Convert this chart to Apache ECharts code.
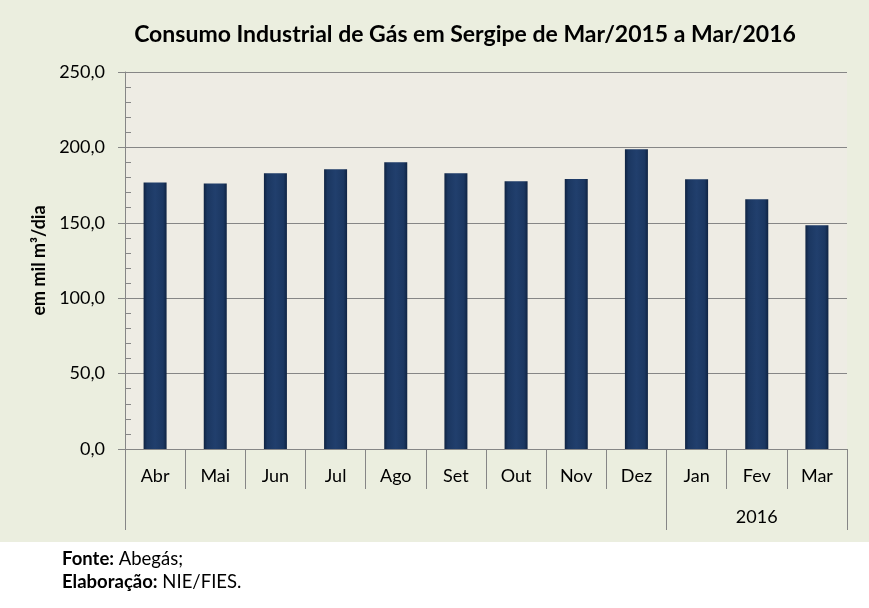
<!DOCTYPE html>
<html>
<head>
<meta charset="utf-8">
<script src="https://cdn.jsdelivr.net/npm/echarts@6/dist/echarts.min.js"></script>
<style>
  html, body { margin: 0; padding: 0; background: #ffffff; }
  #main { width: 869px; height: 608px; }
</style>
</head>
<body>
<div id="main"></div>
<script>
  // dados --------------------
  var meses = ['Abr', 'Mai', 'Jun', 'Jul', 'Ago', 'Set', 'Out', 'Nov', 'Dez', 'Jan', 'Fev', 'Mar'];
  var anos = ['', '', '', '', '', '', '', '', '', '', '2016', ''];
  var consumo = [176.7, 176.0, 182.8, 185.5, 190.2, 182.9, 177.6, 179.0, 198.7, 178.8, 165.6, 148.3];
  var inicioAno = [0, 9]; // separadores de grupo no eixo

  var fonte = 'Lato';
  var cinza = '#868686';

  var myChart = echarts.init(document.getElementById('main'));

  var option = {
    backgroundColor: '#ffffff',
    textStyle: { fontFamily: fonte },
    graphic: [
      { type: 'rect', z: -10, shape: { x: 0, y: 0, width: 869, height: 542 }, style: { fill: '#ebeedf' } },
      {
        type: 'text', left: 62, top: 548,
        style: {
          text: '{b|Fonte:} Abegás;\n{b|Elaboração:} NIE/FIES.',
          font: '18.5px Lato', fill: '#000', lineHeight: 23,
          rich: { b: { fontWeight: 'bold', fontSize: 18.5, fontFamily: fonte, lineHeight: 23 } }
        }
      }
    ],
    title: {
      text: 'Consumo Industrial de Gás em Sergipe de Mar/2015 a Mar/2016',
      left: 460, textAlign: 'center', top: 18,
      textStyle: { fontSize: 23, fontWeight: 'bold', color: '#000', fontFamily: fonte }
    },
    grid: {
      left: 125, right: 22, top: 72, bottom: 159,
      show: true, backgroundColor: '#eeece4', borderWidth: 0
    },
    xAxis: [{
      type: 'category',
      data: meses,
      axisLine: { show: true, lineStyle: { color: cinza } },
      axisTick: { show: true, length: 40, lineStyle: { color: cinza } },
      axisLabel: { fontSize: 18, color: '#000', margin: 18, interval: 0 }
    }, {
      type: 'category',
      data: anos,
      position: 'bottom',
      axisLine: { show: false },
      axisTick: {
        show: true, length: 81, lineStyle: { color: cinza },
        interval: function (i) { return inicioAno.indexOf(i) >= 0; }
      },
      axisLabel: { fontSize: 18, color: '#000', margin: 59, interval: 0 }
    }],
    yAxis: [{
      type: 'value',
      min: 0, max: 250, interval: 50,
      name: 'em mil m³/dia',
      nameLocation: 'middle', nameRotate: 90, nameGap: 76,
      nameTextStyle: { fontSize: 18, fontWeight: 'bold', color: '#000', fontFamily: fonte },
      axisLine: { show: true, lineStyle: { color: cinza } },
      axisTick: { show: true, length: 7, lineStyle: { color: cinza } },
      splitLine: { lineStyle: { color: cinza } },
      axisLabel: {
        fontSize: 18, color: '#000', margin: 20,
        formatter: function (v) { return v.toFixed(1).replace('.', ','); }
      }
    }, {
      // marcas menores, para dentro
      type: 'value',
      min: 0, max: 250, interval: 10,
      position: 'left',
      axisLine: { show: false },
      axisTick: { show: true, inside: true, length: 6, lineStyle: { color: cinza } },
      splitLine: { show: false },
      axisLabel: { show: false }
    }],
    series: [{
      name: 'Consumo',
      type: 'bar',
      barWidth: 23,
      data: consumo,
      itemStyle: {
        color: new echarts.graphic.LinearGradient(0, 0, 1, 0, [
          { offset: 0, color: '#0f2342' },
          { offset: 0.15, color: '#1b3761' },
          { offset: 0.5, color: '#213f6d' },
          { offset: 0.85, color: '#1b3761' },
          { offset: 1, color: '#0f2342' }
        ]),
        shadowColor: 'rgba(0,0,0,0.35)',
        shadowBlur: 3,
        shadowOffsetX: 2,
        shadowOffsetY: 1
      }
    }]
  };
  myChart.setOption(option);
</script>
</body>
</html>
